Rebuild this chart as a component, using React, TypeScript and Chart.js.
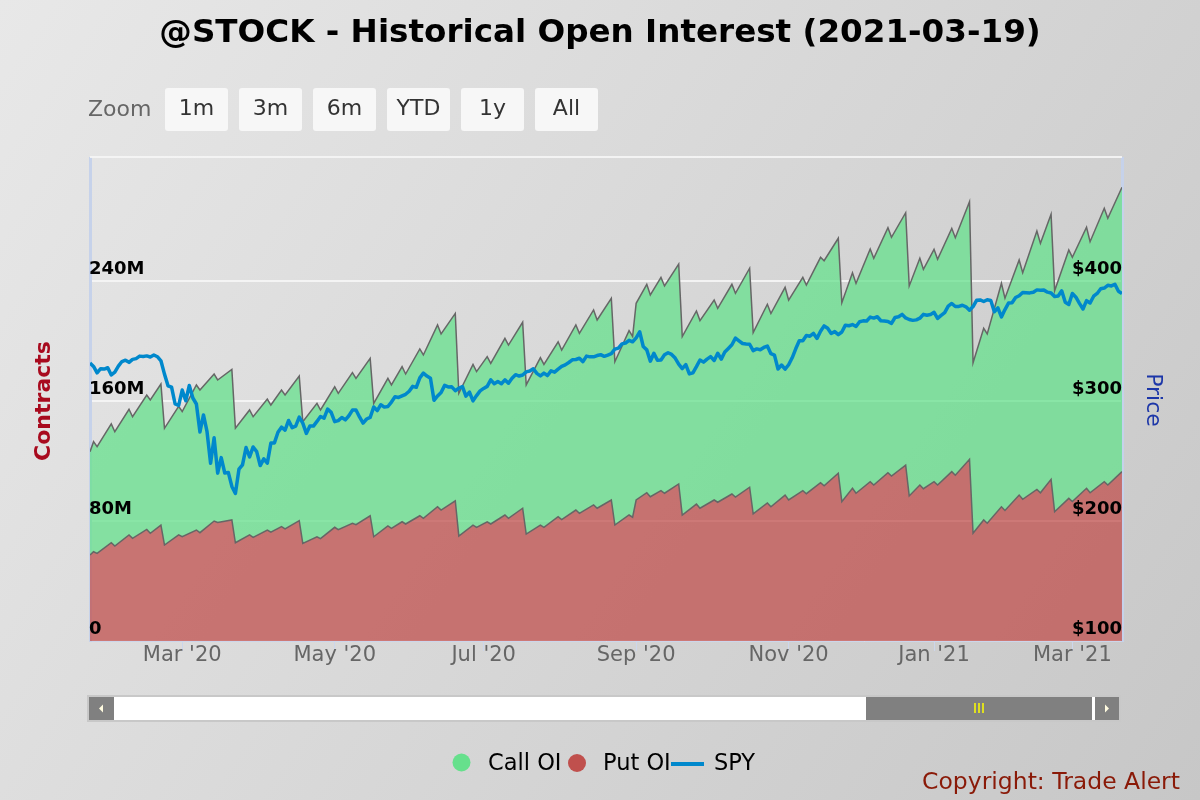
import React, { useEffect, useRef } from "react";
import { Chart, registerables } from "chart.js";

Chart.register(...registerables);

// ---- Data (index 0 = 2020-01-23, one step per trading day, last = 2021-03-19) ----
const lastDayIndex = 291;
const xTickIndex = [26, 69, 111, 154, 197, 238, 277];
const xTickLabels = ["Mar '20", "May '20", "Jul '20", "Sep '20", "Nov '20", "Jan '21", "Mar '21"];
const leftTicks = [0, 80, 160, 240];
const rightTicks = [100, 200, 300, 400];

// trading-day indices of the open-interest readings (weekly peaks and following-day dips)
const oiDayIndex = [
  0, 1, 2, 6, 7, 11, 12, 16, 17, 20,
  21, 25, 26, 30, 31, 35, 36, 40, 41, 45,
  46, 50, 51, 54, 55, 59, 60, 64, 65, 69,
  70, 74, 75, 79, 80, 84, 85, 88, 89, 93,
  94, 98, 99, 103, 104, 108, 109, 112, 113, 117,
  118, 122, 123, 127, 128, 132, 133, 137, 138, 142,
  143, 147, 148, 152, 153, 154, 157, 158, 161, 162,
  166, 167, 171, 172, 176, 177, 181, 182, 186, 187,
  191, 192, 196, 197, 201, 202, 206, 207, 211, 212,
  215, 216, 220, 221, 225, 226, 230, 231, 234, 235,
  238, 239, 243, 244, 248, 249, 252, 253, 257, 258,
  262, 263, 267, 268, 271, 272, 276, 277, 281, 282,
  286, 287, 291,
];

// Put OI, millions of contracts
const putOI = [
  57.3, 59.5, 58.4, 65.5, 63.3, 70.7, 68.4, 74.4, 71.8, 77.3,
  64.0, 70.7, 69.5, 74.0, 72.2, 80.0, 79.0, 80.7, 65.5, 70.7,
  69.1, 74.0, 72.5, 76.2, 74.8, 80.2, 65.1, 69.5, 68.2, 75.8,
  74.2, 78.4, 77.5, 83.5, 69.5, 76.7, 75.1, 79.5, 78.0, 83.5,
  81.8, 89.5, 87.3, 93.5, 70.0, 77.3, 75.8, 79.5, 78.0, 84.0,
  81.8, 88.5, 71.3, 77.3, 75.8, 82.9, 81.0, 87.3, 85.1, 90.7,
  88.5, 94.0, 77.3, 84.0, 82.5, 94.0, 98.9, 96.2, 100.2, 98.5,
  104.7, 84.0, 91.3, 88.5, 94.0, 92.5, 98.0, 96.0, 102.5, 84.7,
  92.0, 89.5, 97.3, 94.0, 100.2, 98.2, 105.5, 103.5, 111.8, 92.9,
  101.8, 98.5, 106.2, 104.0, 112.2, 110.0, 117.3, 96.7, 104.0, 101.5,
  106.2, 104.0, 112.9, 110.5, 121.1, 71.8, 80.7, 78.5, 89.5, 87.0,
  97.3, 94.5, 101.1, 98.8, 107.8, 86.2, 95.1, 93.0, 101.8, 98.8,
  106.2, 104.0, 112.9,
];

// Call OI, millions of contracts (stacked on top of Put OI)
const callOI = [
  68.9, 73.4, 71.1, 79.2, 76.2, 83.8, 81.1, 89.6, 88.9, 94.0,
  77.8, 85.8, 83.5, 96.7, 95.1, 98.0, 95.0, 100.4, 76.3, 83.3,
  80.4, 87.3, 84.8, 91.1, 89.2, 96.5, 81.1, 88.9, 85.8, 93.7,
  90.9, 100.5, 97.6, 104.9, 88.9, 98.4, 95.6, 103.4, 100.0, 111.2,
  108.9, 121.2, 117.4, 124.9, 95.1, 107.1, 103.8, 110.1, 107.1, 117.8,
  115.5, 124.0, 99.4, 111.6, 108.6, 116.6, 113.0, 123.4, 120.0, 130.0,
  125.5, 134.5, 108.9, 122.9, 120.5, 131.1, 138.9, 134.5, 142.2, 138.2,
  146.6, 118.9, 128.7, 125.1, 133.3, 129.3, 139.8, 135.8, 146.0, 120.9,
  132.5, 128.8, 138.5, 133.3, 142.2, 139.1, 150.3, 150.0, 156.7, 132.6,
  143.7, 139.9, 155.1, 151.1, 163.3, 159.1, 168.2, 140.0, 151.1, 146.3,
  154.9, 150.5, 162.2, 158.4, 171.8, 113.7, 127.8, 126.2, 149.0, 141.5,
  156.7, 151.0, 172.2, 166.3, 176.7, 147.3, 165.6, 162.8, 174.0, 167.4,
  182.3, 177.8, 189.6,
];

// SPY daily close, one value per trading day (index 0..291)
const spyClose = [
  331.7, 328.8, 323.5, 326.9, 326.6, 327.7, 321.7, 324.1, 329.1, 332.9,
  334.0, 332.2, 334.7, 335.3, 337.4, 337.1, 337.6, 336.7, 338.3, 336.9,
  333.5, 322.4, 312.7, 311.5, 297.5, 296.3, 309.1, 300.2, 312.9, 302.5,
  297.5, 274.2, 288.4, 274.4, 248.1, 269.3, 239.9, 252.8, 240.0, 240.5,
  228.8, 223.0, 243.2, 246.8, 261.2, 253.4, 261.7, 257.8, 246.2, 251.8,
  248.2, 264.9, 265.1, 274.0, 278.2, 275.7, 283.8, 277.8, 279.1, 286.6,
  281.6, 273.0, 279.1, 279.1, 283.0, 287.1, 285.7, 293.2, 290.5, 282.8,
  283.6, 286.2, 284.3, 287.7, 292.4, 292.5, 286.7, 281.6, 285.0, 286.3,
  295.0, 292.0, 296.9, 294.9, 295.4, 299.1, 303.5, 303.0, 304.3, 305.6,
  308.1, 312.2, 311.4, 319.3, 323.2, 320.8, 319.0, 300.6, 304.2, 307.1,
  313.0, 311.7, 311.8, 308.6, 310.6, 312.1, 304.1, 307.4, 300.1, 304.5,
  308.4, 310.5, 312.2, 317.6, 314.4, 316.2, 314.4, 317.6, 314.8, 318.9,
  321.9, 320.8, 321.7, 324.3, 325.0, 326.9, 323.0, 320.9, 323.2, 321.2,
  325.1, 324.0, 326.5, 328.8, 330.1, 332.1, 334.3, 334.6, 335.6, 332.8,
  337.4, 336.8, 336.8, 337.9, 338.6, 337.2, 338.3, 339.5, 343.2, 344.1,
  347.6, 348.3, 350.6, 349.3, 352.6, 357.7, 345.4, 342.6, 333.2, 339.8,
  333.9, 334.1, 338.5, 340.2, 338.8, 335.8, 330.7, 327.0, 330.3, 322.6,
  323.5, 328.7, 334.2, 332.4, 334.9, 337.0, 333.8, 339.8, 334.9, 340.8,
  343.8, 346.9, 352.4, 350.1, 347.9, 347.5, 347.3, 342.0, 343.4, 342.7,
  344.6, 345.8, 339.4, 338.2, 326.7, 330.0, 326.5, 330.2, 336.0, 343.5,
  350.2, 350.2, 354.6, 354.0, 356.3, 352.2, 358.1, 362.6, 360.6, 356.3,
  357.8, 355.3, 357.5, 363.2, 362.7, 363.7, 362.1, 366.0, 366.8, 366.7,
  369.9, 369.1, 370.2, 366.9, 366.7, 366.3, 364.7, 369.6, 370.2, 372.2,
  369.2, 367.9, 367.2, 367.6, 369.0, 372.2, 371.5, 372.0, 373.9, 368.8,
  371.3, 373.6, 379.1, 381.3, 378.7, 378.8, 379.8, 378.5, 375.7, 378.7,
  383.9, 384.2, 382.9, 384.4, 383.8, 374.4, 377.6, 370.1, 376.2, 381.6,
  381.9, 386.2, 387.7, 390.5, 390.3, 390.1, 390.7, 392.6, 392.3, 392.4,
  390.7, 390.0, 387.0, 387.5, 391.8, 382.3, 380.4, 389.6, 386.5, 381.4,
  376.7, 383.6, 381.7, 387.3, 389.6, 393.5, 394.1, 396.4, 395.9, 397.3,
  391.5, 389.5,
];

const zoomButtons = ["1m", "3m", "6m", "YTD", "1y", "All"];
const FONT = '"DejaVu Sans", "Liberation Sans", sans-serif';

function roundRect(ctx: CanvasRenderingContext2D, x: number, y: number, w: number, h: number, r: number) {
  ctx.beginPath();
  ctx.moveTo(x + r, y);
  ctx.lineTo(x + w - r, y);
  ctx.quadraticCurveTo(x + w, y, x + w, y + r);
  ctx.lineTo(x + w, y + h - r);
  ctx.quadraticCurveTo(x + w, y + h, x + w - r, y + h);
  ctx.lineTo(x + r, y + h);
  ctx.quadraticCurveTo(x, y + h, x, y + h - r);
  ctx.lineTo(x, y + r);
  ctx.quadraticCurveTo(x, y, x + r, y);
  ctx.closePath();
}

const decorPlugin = {
  id: "decor",
  beforeDraw(chart: any) {
    const ctx: CanvasRenderingContext2D = chart.ctx;
    const { width, height } = chart;
    ctx.save();
    const g = ctx.createLinearGradient(0, 0, width, height);
    g.addColorStop(0, "#e8e8e8");
    g.addColorStop(1, "#c7c7c7");
    ctx.fillStyle = g;
    ctx.fillRect(0, 0, width, height);
    ctx.restore();
  },
  afterDraw(chart: any) {
    const ctx: CanvasRenderingContext2D = chart.ctx;
    const area = chart.chartArea;
    ctx.save();

    // plot top line
    ctx.strokeStyle = "rgba(245,245,245,0.9)";
    ctx.lineWidth = 2;
    ctx.beginPath();
    ctx.moveTo(area.left, area.top - 1);
    ctx.lineTo(area.right, area.top - 1);
    ctx.stroke();

    // title
    ctx.fillStyle = "#000";
    ctx.font = `bold 32.6px ${FONT}`;
    ctx.textAlign = "center";
    ctx.textBaseline = "middle";
    ctx.fillText("@STOCK - Historical Open Interest (2021-03-19)", 600, 34);

    // zoom selector
    ctx.font = `22px ${FONT}`;
    ctx.fillStyle = "#666";
    ctx.textAlign = "left";
    ctx.fillText("Zoom", 88, 110);
    zoomButtons.forEach((b, i) => {
      const x = 165 + i * 74;
      roundRect(ctx, x, 88, 63, 43, 3);
      ctx.fillStyle = "#f7f7f7";
      ctx.fill();
      ctx.fillStyle = "#333";
      ctx.textAlign = "center";
      ctx.fillText(b, x + 31.5, 109);
    });

    // axis titles
    ctx.save();
    ctx.translate(44, 401);
    ctx.rotate(-Math.PI / 2);
    ctx.font = `bold 22px ${FONT}`;
    ctx.fillStyle = "#a80a1e";
    ctx.textAlign = "center";
    ctx.textBaseline = "middle";
    ctx.fillText("Contracts", 0, 0);
    ctx.restore();

    ctx.save();
    ctx.translate(1153, 400);
    ctx.rotate(Math.PI / 2);
    ctx.font = `22px ${FONT}`;
    ctx.fillStyle = "#1c36a8";
    ctx.textAlign = "center";
    ctx.textBaseline = "middle";
    ctx.fillText("Price", 0, 0);
    ctx.restore();

    // navigator scrollbar
    const sy = 696, sh = 25;
    ctx.fillStyle = "#ffffff";
    ctx.fillRect(88, sy, 1032, sh);
    ctx.strokeStyle = "#c8c8c8";
    ctx.lineWidth = 2;
    ctx.strokeRect(88, sy, 1032, sh);
    ctx.fillStyle = "#808080";
    ctx.fillRect(89, sy + 1, 25, sh - 2);
    ctx.fillRect(866, sy + 1, 226, sh - 2);
    ctx.fillRect(1095, sy + 1, 24, sh - 2);
    ctx.fillStyle = "#fffbe0";
    ctx.beginPath();
    ctx.moveTo(99, sy + sh / 2);
    ctx.lineTo(103, sy + sh / 2 - 4);
    ctx.lineTo(103, sy + sh / 2 + 4);
    ctx.closePath();
    ctx.fill();
    ctx.beginPath();
    ctx.moveTo(1109, sy + sh / 2);
    ctx.lineTo(1105, sy + sh / 2 - 4);
    ctx.lineTo(1105, sy + sh / 2 + 4);
    ctx.closePath();
    ctx.fill();
    ctx.strokeStyle = "#ffff00";
    ctx.lineWidth = 1.5;
    [975, 979, 983].forEach((gx) => {
      ctx.beginPath();
      ctx.moveTo(gx, sy + 7);
      ctx.lineTo(gx, sy + 17);
      ctx.stroke();
    });

    // legend
    ctx.textAlign = "left";
    ctx.textBaseline = "alphabetic";
    ctx.font = `22.5px ${FONT}`;
    ctx.fillStyle = "#66e08c";
    ctx.beginPath();
    ctx.arc(461.5, 762.5, 9, 0, Math.PI * 2);
    ctx.fill();
    ctx.fillStyle = "#000";
    ctx.fillText("Call OI", 488, 770);
    ctx.fillStyle = "#c0504d";
    ctx.beginPath();
    ctx.arc(577, 763, 9, 0, Math.PI * 2);
    ctx.fill();
    ctx.fillStyle = "#000";
    ctx.fillText("Put OI", 603, 770);
    ctx.strokeStyle = "#0088cc";
    ctx.lineWidth = 4;
    ctx.beginPath();
    ctx.moveTo(671, 764);
    ctx.lineTo(704, 764);
    ctx.stroke();
    ctx.fillStyle = "#000";
    ctx.fillText("SPY", 714, 770);

    // credits
    ctx.font = `23.5px ${FONT}`;
    ctx.fillStyle = "#8a1a08";
    ctx.textAlign = "right";
    ctx.fillText("Copyright: Trade Alert", 1180, 789);

    ctx.restore();
  },
};

export default function App() {
  const canvasRef = useRef<HTMLCanvasElement | null>(null);

  useEffect(() => {
    document.body.style.margin = "0";
    const canvas = canvasRef.current;
    if (!canvas) return;

    const spyPts = spyClose.map((v, i) => ({ x: i, y: v }));
    const putPts = oiDayIndex.map((d, i) => ({ x: d, y: putOI[i] }));
    const callPts = oiDayIndex.map((d, i) => ({ x: d, y: callOI[i] }));

    const chart = new Chart(canvas, {
      type: "line",
      data: {
        datasets: [
          {
            label: "SPY",
            data: spyPts,
            yAxisID: "y1",
            borderColor: "#0088cc",
            borderWidth: 3.5,
            pointRadius: 0,
            fill: false,
            order: 0,
            tension: 0,
            borderJoinStyle: "round",
          } as any,
          {
            label: "Put OI",
            data: putPts,
            yAxisID: "y",
            stack: "oi",
            borderColor: "#666666",
            borderWidth: 1.5,
            backgroundColor: "rgba(192,80,77,0.75)",
            fill: "origin",
            pointRadius: 0,
            order: 1,
            tension: 0,
          } as any,
          {
            label: "Call OI",
            data: callPts,
            yAxisID: "y",
            stack: "oi",
            borderColor: "#666666",
            borderWidth: 1.5,
            backgroundColor: "rgba(102,224,140,0.75)",
            fill: "-1",
            pointRadius: 0,
            order: 2,
            tension: 0,
          } as any,
        ],
      },
      options: {
        responsive: false,
        animation: false,
        devicePixelRatio: 1,
        layout: { padding: { left: 90, right: 78, top: 158, bottom: 129 } },
        plugins: {
          legend: { display: false },
          tooltip: { enabled: false },
          title: { display: false },
        },
        scales: {
          x: {
            type: "linear",
            min: 0,
            max: lastDayIndex,
            afterFit: (s: any) => {
              s.height = 30;
            },
            afterBuildTicks: (s: any) => {
              s.ticks = xTickIndex.map((v) => ({ value: v }));
            },
            ticks: {
              autoSkip: false,
              maxRotation: 0,
              padding: -8,
              color: "#666",
              font: { family: FONT, size: 21 },
              callback: (_v: any, i: number) => xTickLabels[i],
            },
            grid: {
              drawOnChartArea: false,
              drawTicks: true,
              tickLength: 10,
              color: "#ccd6eb",
            },
            border: { color: "#ccd6eb", width: 1 },
          },
          y: {
            position: "left",
            stacked: true,
            min: 0,
            max: 322,
            afterFit: (s: any) => {
              s.width = 0;
            },
            afterBuildTicks: (s: any) => {
              s.ticks = leftTicks.map((v) => ({ value: v }));
            },
            ticks: {
              z: 1,
              mirror: true,
              padding: -1,
              labelOffset: -12,
              color: "#000",
              font: { family: FONT, size: 18, weight: "bold" },
              callback: (v: any) => (v === 0 ? "0" : `${v}M`),
            },
            grid: { color: "rgba(244,244,244,0.95)", lineWidth: 2, drawTicks: false },
            border: { display: true, color: "#c6d2ea", width: 3 },
          },
          y1: {
            position: "right",
            min: 100,
            max: 502.5,
            afterFit: (s: any) => {
              s.width = 0;
            },
            afterBuildTicks: (s: any) => {
              s.ticks = rightTicks.map((v) => ({ value: v }));
            },
            ticks: {
              z: 1,
              mirror: true,
              padding: 0,
              labelOffset: -12,
              color: "#000",
              font: { family: FONT, size: 18, weight: "bold" },
              callback: (v: any) => `$${v}`,
            },
            grid: { display: false, drawTicks: false },
            border: { display: true, color: "#c6d2ea", width: 3 },
          },
        } as any,
      },
      plugins: [decorPlugin],
    });

    return () => chart.destroy();
  }, []);

  return (
    <div style={{ width: 1200, height: 800 }}>
      <canvas ref={canvasRef} width={1200} height={800} style={{ display: "block" }} />
    </div>
  );
}
